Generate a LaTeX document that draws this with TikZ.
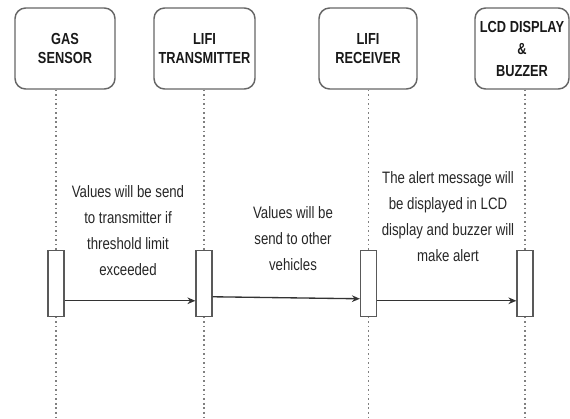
\documentclass[tikz,border=0pt]{standalone}
\usepackage{fontspec}
\setmainfont{Liberation Sans}[FakeStretch=0.8]
\usetikzlibrary{positioning, arrows.meta}
\tikzset{>={Stealth[length=6pt,width=5pt]}}
\tikzset{
  actor/.style={draw=black!60, line width=1.1pt, rounded corners=8pt,
    minimum width=#1, minimum height=60.75pt, inner sep=0pt, align=center,
    font=\bfseries\fontsize{12}{14.5}\selectfont, text=black!90},
  bar/.style={draw=black!65, line width=0.9pt, fill=white,
    minimum width=12pt, minimum height=49pt, inner sep=0pt},
  lifeline/.style={draw=black!50, line width=0.9pt, dash pattern=on 1.2pt off 2.2pt},
  msg/.style={->, draw=black!80, line width=1pt},
  note/.style={align=center, font=\fontsize{12.4}{19.5}\selectfont, text=black!85}
}

\begin{document}
\begin{tikzpicture}[x=0.75pt, y=-0.75pt]
\useasboundingbox (0,0) rectangle (570,418);
% header boxes
\node[actor=75pt] (gas) at (65,48.5) {GAS\\SENSOR};
\node[actor=75.75pt] (tx) at (204.5,48.5) {LIFI\\TRANSMITTER};
\node[actor=73.5pt] (rx) at (368,48.5) {LIFI\\RECEIVER};
\node[actor=70.5pt] (lcd) at (522,48.5) {LCD DISPLAY\\[2pt]\&\\[2pt]BUZZER};
% activation bars
\node[bar] (actgas) at (56,283.5) {};
\node[bar] (acttx) at (204,283.5) {};
\node[bar] (actrx) at (368.5,283.5) {};
\node[bar] (actlcd) at (525,283.5) {};
\coordinate (bottom) at (0,418);
% lifelines
\foreach \a/\b in {gas/actgas, tx/acttx, rx/actrx, lcd/actlcd}{
  \draw[lifeline] (\b |- \a.south) -- (\b.north);
  \draw[lifeline] (\b.south) -- (\b |- bottom);
}
% messages
\draw[msg] ([yshift=12pt]actgas.south east) -- ([yshift=12pt]acttx.south west);
\draw[msg] ([yshift=15pt]acttx.south east) -- ([yshift=13.5pt]actrx.south west);
\draw[msg] ([yshift=12pt]actrx.south east) -- ([yshift=12pt]actlcd.south west);
% labels
\node[note] (m1) at (128,231) {Values will be send\\to transmitter if\\threshold limit\\exceeded};
\node[note] (m2) at (293,239) {Values will be\\send to other\\vehicles};
\node[note] (m3) at (448,217) {The alert message will\\be displayed in LCD\\display and buzzer will\\make alert};
\end{tikzpicture}
\end{document}
